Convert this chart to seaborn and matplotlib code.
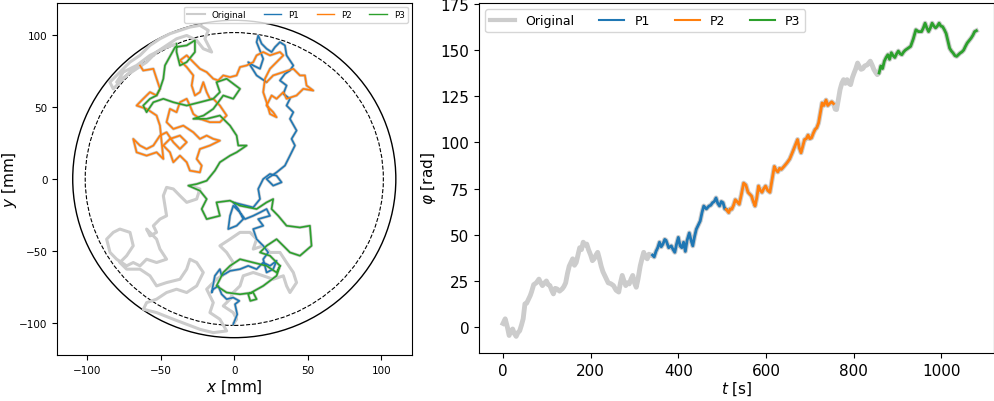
import numpy as np
import pandas as pd
import seaborn as sns
import matplotlib.pyplot as plt
from matplotlib.patches import Circle
from matplotlib.lines import Line2D

# ---- path in the plane [mm] ----
# original, before P1
orig_a_x = [-30.2, -23.4, -25.6, -32.4, -37.0, -41.5, -46.1, -48.3, -47.2, -46.1, -50.6, -55.1, -52.9,
            -57.4, -59.7, -52.9, -50.6, -46.1, -52.9, -59.7, -64.2, -68.8, -73.3, -80.1, -84.6, -86.9,
            -82.4, -77.9, -71.0, -68.8, -73.3, -77.9, -73.3, -64.2, -57.4, -52.9, -46.1, -37.0, -32.4,
            -30.2, -25.6, -21.1, -25.6, -32.4, -39.3, -46.1, -52.9, -59.7, -61.9, -52.9, -41.5, -32.4,
            -23.4, -14.3, -5.2, -9.8, -16.6, -14.3, -18.8, -12.1, -5.2, -0.7, -5.2, -9.8, -2.9, 3.9,
            10.7, 15.2, 12.9, 19.7, 24.3, 31.1, 35.6, 40.2, 42.4, 37.9, 35.6, 33.4, 26.5, 19.7, 12.9,
            6.1, 3.9, -0.7, -2.9, -7.5, -0.7, 1.6, -0.7]
orig_a_y = [-4.6, -6.9, -13.9, -16.2, -11.6, -6.9, -5.8, -11.6, -18.5, -25.5, -27.8, -32.4, -37.0,
            -39.4, -34.7, -41.7, -48.6, -55.6, -57.9, -55.6, -60.2, -57.9, -60.2, -55.6, -50.9, -41.7,
            -37.0, -34.7, -37.0, -46.3, -53.2, -57.9, -62.5, -62.5, -67.1, -74.1, -71.8, -69.5, -62.5,
            -55.6, -57.9, -64.8, -74.1, -78.7, -76.4, -78.7, -83.3, -85.7, -90.3, -92.6, -97.2, -100.7,
            -104.2, -106.5, -105.3, -97.2, -92.6, -85.7, -76.4, -69.5, -64.8, -57.9, -50.9, -46.3,
            -41.7, -37.0, -37.0, -41.7, -48.6, -46.3, -50.9, -50.9, -57.9, -64.8, -71.8, -78.7, -74.1,
            -67.1, -69.5, -67.1, -64.8, -67.1, -74.1, -78.7, -83.3, -88.0, -92.6, -97.2, -100.7]

p1_x = [-0.7, 2.0, 0.5, 3.4, -0.7, -5.2, -8.6, -10.9, -14.3, -15.4, -13.2, -9.8, -8.6, -2.9, 3.9, 9.5,
        15.2, 19.7, 24.3, 28.8, 26.5, 22.0, 19.7, 23.1, 19.7, 15.2, 12.9, 19.7, 16.3, 24.3, 22.0, 17.5,
        12.9, 7.3, 3.9, -0.7, -2.9, -4.1, 1.6, 6.1, 2.7, -0.7, 3.9, 12.9, 17.5, 16.3, 19.7, 24.3, 28.8,
        32.2, 26.5, 22.0, 28.8, 34.5, 37.9, 41.3, 39.0, 42.4, 37.9, 40.2, 35.6, 37.9, 33.4, 35.6, 31.1,
        34.5, 37.9, 40.2, 35.6, 34.5, 31.1, 27.7, 25.4, 22.0, 18.6, 16.3, 15.2, 19.7, 17.5, 12.9, 9.5,
        15.2, 22.0]
p1_y = [-100.7, -93.8, -86.8, -84.5, -82.2, -83.3, -79.9, -74.1, -76.4, -78.7, -67.1, -62.5, -67.1,
        -63.7, -62.5, -60.2, -62.5, -57.9, -60.2, -56.7, -62.5, -64.8, -55.6, -50.9, -46.3, -41.7,
        -34.7, -32.4, -27.8, -25.5, -20.8, -23.2, -25.5, -27.8, -23.2, -18.5, -25.5, -34.7, -32.4,
        -27.8, -20.8, -16.2, -17.4, -19.7, -13.9, -6.9, 0.0, 3.5, 2.3, -2.3, -4.6, 0.0, 4.6, 9.3, 16.2,
        23.2, 27.8, 33.6, 41.7, 46.3, 50.9, 55.6, 59.0, 64.8, 68.3, 72.9, 75.2, 78.7, 85.7, 92.6, 94.9,
        91.4, 88.0, 90.3, 93.8, 99.5, 94.9, 83.3, 76.4, 78.7, 81.0, 71.8, 67.1]

p2_x = [22.0, 26.5, 33.4, 40.2, 44.7, 48.1, 49.2, 53.8, 47.0, 42.4, 35.6, 33.4, 28.8, 25.4, 22.0, 26.5,
        28.8, 24.3, 22.0, 19.7, 20.9, 24.3, 28.8, 33.4, 31.1, 24.3, 19.7, 15.2, 12.9, 8.4, 3.9, 1.6,
        -2.9, -7.5, -10.9, -14.3, -18.8, -23.4, -27.9, -32.4, -37.0, -32.4, -27.9, -29.0, -26.8, -23.4,
        -21.1, -18.8, -16.6, -14.3, -9.8, -5.2, -9.8, -16.6, -23.4, -27.9, -30.2, -32.4, -37.0, -39.3,
        -43.8, -46.1, -41.5, -34.7, -27.9, -23.4, -18.8, -14.3, -9.8, -16.6, -23.4, -25.6, -22.2, -23.4,
        -30.2, -32.4, -37.0, -41.5, -43.8, -48.3, -43.8, -37.0, -32.4, -37.0, -41.5, -46.1, -50.6,
        -55.1, -59.7, -64.2, -68.8, -66.5, -59.7, -52.9, -48.3, -50.6, -52.9, -59.7, -66.5, -62.0,
        -57.4, -52.9, -50.6, -52.9, -55.1, -62.0, -64.2]
p2_y = [67.1, 71.8, 74.1, 76.4, 71.8, 71.8, 64.8, 61.3, 62.5, 57.9, 55.6, 60.2, 55.6, 57.9, 50.9, 46.3,
        42.8, 45.1, 53.2, 60.2, 69.5, 76.4, 81.0, 85.7, 88.0, 85.7, 88.0, 85.7, 81.0, 78.7, 77.6, 71.8,
        70.6, 71.8, 68.3, 69.5, 74.1, 76.4, 81.0, 85.7, 82.2, 77.6, 71.8, 64.8, 57.9, 60.2, 67.1, 60.2,
        55.6, 55.6, 50.9, 44.0, 39.4, 39.4, 41.7, 45.1, 50.9, 55.6, 53.2, 46.3, 48.6, 39.4, 34.7, 37.0,
        32.4, 27.8, 30.1, 27.8, 26.6, 23.2, 20.8, 13.9, 9.3, 4.6, 5.8, 11.6, 16.2, 11.6, 18.5, 23.2,
        27.8, 30.1, 25.5, 20.8, 25.5, 32.4, 30.1, 23.2, 20.8, 23.2, 27.8, 18.5, 16.2, 18.5, 13.9, 37.0,
        44.0, 48.6, 50.9, 55.6, 60.2, 57.9, 62.5, 69.5, 76.4, 75.2, 78.7]

# original, between P2 and P3
orig_b_x = [-64.2, -68.8, -75.6, -82.4, -84.7, -77.9, -71.1, -64.2, -57.4, -50.6, -43.8, -37.0, -30.2,
            -23.4, -17.7, -20.0, -15.4, -21.1, -25.6, -32.4, -39.3, -46.1, -52.9, -59.7, -66.5, -73.3,
            -80.1, -75.6, -66.5, -57.4, -48.3, -39.3]
orig_b_y = [78.7, 76.4, 69.5, 62.5, 67.1, 74.1, 81.0, 85.7, 92.6, 97.2, 100.7, 103.0, 105.3, 106.5,
            103.0, 97.2, 88.0, 90.3, 96.1, 99.5, 97.2, 92.6, 88.0, 81.0, 76.4, 71.8, 67.1, 74.1, 78.7,
            85.7, 90.3, 93.8]

p3_x = [-39.3, -39.3, -37.0, -32.4, -26.8, -26.8, -32.4, -40.3, -47.2, -48.3, -50.6, -52.9, -57.4,
        -62.0, -59.7, -55.1, -48.3, -41.5, -32.4, -23.4, -14.3, -9.8, -12.1, -5.2, 3.9, -0.7, -7.5,
        -14.3, -20.9, -27.9, -18.8, -9.8, -2.9, 1.6, 2.7, 8.4, 1.6, -2.9, -9.8, -13.2, -18.8, -25.6,
        -31.3, -23.4, -18.8, -22.2, -18.8, -9.8, -12.1, -2.9, 3.9, 15.2, 22.0, 26.5, 25.4, 29.9, 35.6,
        44.7, 51.5, 52.6, 44.7, 37.9, 33.4, 28.8, 22.0, 17.5, 24.3, 31.1, 28.8, 22.0, 12.9, 3.9, -2.9,
        -7.5, -12.1, -5.2, 3.9, 12.9, 15.2, 10.9, 9.5, 19.7, 28.8, 31.1]
p3_y = [93.8, 88.0, 78.7, 81.0, 88.0, 96.1, 92.6, 91.4, 78.7, 69.5, 62.5, 57.9, 55.6, 50.9, 46.3, 53.2,
        55.6, 53.2, 50.9, 53.2, 55.6, 60.2, 67.1, 69.5, 62.5, 55.6, 57.9, 48.6, 44.0, 41.7, 41.7, 44.0,
        37.0, 30.1, 23.2, 23.2, 18.5, 16.2, 11.6, 5.8, -1.2, -3.5, -4.6, -8.1, -13.9, -20.8, -27.8,
        -25.5, -16.2, -15.0, -18.5, -20.8, -16.2, -13.9, -20.8, -25.5, -32.4, -33.6, -32.4, -46.3,
        -53.2, -50.9, -46.3, -41.7, -46.3, -50.9, -53.2, -60.2, -64.8, -60.2, -57.9, -55.6, -60.2,
        -64.8, -74.1, -78.7, -79.9, -78.7, -83.3, -84.5, -79.9, -74.1, -67.1, -60.2]

# ---- angle over time ----
t_s = [0, 5, 10, 14, 18, 22, 26, 30, 34, 38, 42, 46, 50, 54, 58, 62, 65, 70, 76, 82, 86, 90, 95, 99,
       103, 107, 111, 115, 119, 123, 129, 135, 139, 143, 147, 151, 155, 159, 163, 167, 171, 175, 179,
       183, 187, 191, 195, 200, 204, 208, 212, 216, 220, 224, 228, 232, 236, 240, 246, 252, 258, 264,
       268, 272, 276, 280, 284, 288, 292, 296, 300, 304, 308, 313, 317, 321, 325, 329, 333, 337,
       341, 345, 349, 353, 357, 361, 365, 369, 372, 378, 384, 388, 392, 396, 400, 404, 408, 412, 416,
       420, 425, 429, 433, 437, 441, 445, 450, 454, 458, 464, 470, 474, 478, 482, 486, 490, 494, 498,
       502, 506, 509,
       515, 518, 522, 526, 530, 534, 539, 544, 549, 554, 559, 563, 567, 571, 575, 579, 583, 587, 591,
       595, 599, 604, 609, 614, 619, 623, 627, 631, 635, 641, 648, 654, 660, 666, 672, 676, 680, 684,
       688, 692, 696, 700, 704, 708, 712, 716, 720, 724, 728, 732, 737, 741, 745, 750, 754,
       758, 761, 765, 769, 773, 777, 781, 785, 789, 793, 797, 801, 805, 809, 813, 817, 821, 825, 831,
       838, 842, 846, 850, 854, 858,
       862, 866, 870, 874, 878, 882, 886, 890, 894, 898, 902, 906, 910, 914, 918, 924, 930, 936, 942,
       948, 955, 959, 963, 967, 971, 975, 979, 983, 987, 991, 995, 999, 1003, 1007, 1011, 1015, 1019,
       1023, 1027, 1031, 1035, 1039, 1043, 1047, 1051, 1055, 1059, 1063, 1068, 1072, 1076, 1080]
phi_rad = [2, 4.5, 0, -4.5, -2, -1, -3.5, -5, -3, -2, 1, 4.5, 12.6, 13, 15, 17, 19, 23, 24, 26, 24, 22.5,
           24, 25, 23, 22.5, 20, 18, 21, 20.7, 19.5, 20.7, 22, 24, 29, 33, 35, 37, 33.5, 35, 39, 43, 42,
           46, 44.5, 45, 42, 39, 36, 37, 39, 40.5, 37, 33, 30, 28, 26, 24, 23.5, 22.5, 20, 19, 24, 28, 25,
           22.5, 24, 23.4, 26, 28, 24, 21.6, 26, 33, 37, 40.5, 38, 37, 39.5, 39,
           39, 38, 41, 43, 46, 43.5, 45, 47.5, 47, 43, 44, 42, 40.5, 45, 48.6, 44, 43, 46, 41, 47, 51, 47,
           44, 49, 53, 55, 57.5, 62, 65.6, 64, 65.6, 66, 67.4, 68, 70, 67, 65.6, 68, 67.4, 64, 63.8,
           62, 64, 63.8, 66, 69, 68, 66.5, 72, 78, 77, 73, 72, 71, 68, 65.6, 70, 76.4, 74, 73, 75, 76.4,
           74, 73, 80, 87, 85, 84, 86, 85.4, 87, 89, 91, 94.4, 98, 101.6, 97, 94.4, 98, 101.6, 102, 104,
           102, 102.5, 105, 107, 108, 110.6, 116, 121.4, 120, 123, 120, 121, 122, 121,
           118, 117.8, 123, 128.6, 132, 134, 132, 134, 132, 131.3, 135, 137.6, 140, 143, 141, 139.6, 140,
           141.4, 142, 144, 142, 139.6, 138, 136.7, 137.6,
           141.4, 140, 144, 146, 147.5, 145, 148.6, 147, 146, 148, 149.5, 148, 147.5, 149, 150, 151, 152,
           156, 161, 160, 160, 162, 164.6, 162, 160, 162, 164.6, 163, 162, 163, 164.6, 163, 162.7, 161,
           159, 155, 151, 149.5, 148.4, 147, 146.6, 147.5, 148.4, 149, 150, 152, 153.8, 155, 156.5, 158,
           160, 160.5]

labels = ["Original", "P1", "P2", "P3"]
t_ranges = [(341, 509), (509, 754), (858, 1080)]
r_outer = 110
r_inner = 101.5

grey = "#cccccc"
colors = sns.color_palette("tab10", 3)

fig = plt.figure(figsize=(9.95, 4.02), dpi=100)
ax1 = fig.add_axes([57.3 / 995, 46 / 402, 354.4 / 995, 352 / 402])
ax2 = fig.add_axes([478.9 / 995, 48 / 402, 515 / 995, 350 / 402])

# left: trajectory
full_x = orig_a_x + p1_x + p2_x + orig_b_x + p3_x
full_y = orig_a_y + p1_y + p2_y + orig_b_y + p3_y
sns.lineplot(x=full_x, y=full_y, sort=False, estimator=None, color=grey, lw=2.2, ax=ax1)
for (px, py), c in zip([(p1_x, p1_y), (p2_x, p2_y), (p3_x, p3_y)], colors):
    sns.lineplot(x=px, y=py, sort=False, estimator=None, color=c, lw=1.2, ax=ax1)
ax1.add_patch(Circle((0, 0), r_outer, fill=False, color="k", lw=1))
ax1.add_patch(Circle((0, 0), r_inner, fill=False, color="k", lw=0.8, ls="--"))
ax1.set_xlim(-120.5, 120.8)
ax1.set_ylim(-122, 122)
ax1.set_xticks([-100, -50, 0, 50, 100])
ax1.set_yticks([-100, -50, 0, 50, 100])
ax1.tick_params(labelsize=7.5)
ax1.set_xlabel("$x$ [mm]", fontsize=11, labelpad=2)
ax1.set_ylabel("$y$ [mm]", fontsize=11, labelpad=0)
h1 = [Line2D([], [], color=grey, lw=1.5)] + [Line2D([], [], color=c, lw=1) for c in colors]
ax1.legend(h1, labels, loc="upper right", ncol=4, fontsize=6.3, borderaxespad=0.4)

# right: angle vs time
df = pd.DataFrame({"t": t_s, "phi": phi_rad})
sns.lineplot(data=df, x="t", y="phi", color=grey, lw=3.5, ax=ax2)
for (a, b), c in zip(t_ranges, colors):
    seg = df[(df.t >= a) & (df.t <= b)]
    sns.lineplot(data=seg, x="t", y="phi", color=c, lw=2, ax=ax2)
ax2.set_xlim(-55, 1120)
ax2.set_ylim(-14, 175.5)
ax2.tick_params(labelsize=11)
ax2.set_xlabel("$t$ [s]", fontsize=11, labelpad=1)
ax2.set_ylabel(r"$\varphi$ [rad]", fontsize=11, labelpad=2)
h2 = [Line2D([], [], color=grey, lw=3)] + [Line2D([], [], color=c, lw=1.5) for c in colors]
ax2.legend(h2, labels, loc="upper left", ncol=4, fontsize=9)

fig.savefig("out.png", dpi=100)
